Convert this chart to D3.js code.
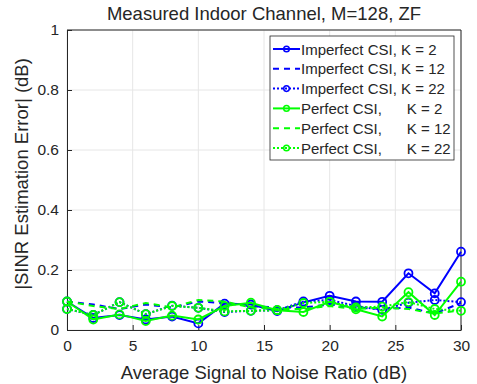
<!DOCTYPE html>
<html>
<head>
<meta charset="utf-8">
<script src="https://cdn.jsdelivr.net/npm/d3@7"></script>
<style>
  body { margin: 0; background: #fff; }
  text { font-family: "Liberation Sans", Arial, sans-serif; fill: #262626; }
</style>
</head>
<body>
<svg id="chart"></svg>
<script>
const snr = [0, 2, 4, 6, 8, 10, 12, 14, 16, 18, 20, 22, 24, 26, 28, 30];

const imperfectK2  = [0.095, 0.040, 0.050, 0.035, 0.045, 0.022, 0.088, 0.085, 0.063, 0.092, 0.114, 0.095, 0.094, 0.189, 0.122, 0.261];
const imperfectK12 = [0.095, 0.085, 0.070, 0.085, 0.075, 0.095, 0.090, 0.080, 0.075, 0.075, 0.085, 0.075, 0.070, 0.075, 0.055, 0.090];
const imperfectK22 = [0.070, 0.050, 0.093, 0.053, 0.081, 0.074, 0.060, 0.064, 0.066, 0.095, 0.100, 0.080, 0.067, 0.091, 0.100, 0.093];
const perfectK2    = [0.095, 0.035, 0.052, 0.030, 0.048, 0.035, 0.080, 0.091, 0.066, 0.060, 0.094, 0.069, 0.045, 0.126, 0.050, 0.161];
const perfectK12   = [0.095, 0.080, 0.070, 0.090, 0.075, 0.100, 0.095, 0.075, 0.070, 0.070, 0.080, 0.070, 0.075, 0.070, 0.055, 0.065];
const perfectK22   = [0.070, 0.050, 0.093, 0.053, 0.080, 0.074, 0.062, 0.064, 0.066, 0.090, 0.094, 0.075, 0.078, 0.093, 0.070, 0.064];

const legendLabels = [
    "Imperfect CSI, K = 2",
    "Imperfect CSI, K = 12",
    "Imperfect CSI, K = 22",
    "Perfect CSI,      K = 2",
    "Perfect CSI,      K = 12",
    "Perfect CSI,      K = 22"
];

const xTicks = [0, 5, 10, 15, 20, 25, 30];
const yTicks = [0, 0.2, 0.4, 0.6, 0.8, 1];

const series = [
    {values: imperfectK2,  color: '#0000ff', dash: null,  marker: true},
    {values: imperfectK12, color: '#0000ff', dash: '6,5', marker: false},
    {values: imperfectK22, color: '#0000ff', dash: '2,2', marker: true},
    {values: perfectK2,    color: '#00ff00', dash: null,  marker: true},
    {values: perfectK12,   color: '#00ff00', dash: '6,5', marker: false},
    {values: perfectK22,   color: '#00ff00', dash: '2,2', marker: true}
];

const W = 477, H = 384;
const margin = {top: 30, right: 16, bottom: 54, left: 67};
const width = W - margin.left - margin.right;
const height = H - margin.top - margin.bottom;

const x = d3.scaleLinear().domain([0, 30]).range([0, width]);
const y = d3.scaleLinear().domain([0, 1]).range([height, 0]);

const svg = d3.select('#chart').attr('width', W).attr('height', H);
const g = svg.append('g').attr('transform', `translate(${margin.left},${margin.top})`);

// grid
g.append('g').selectAll('line').data(xTicks).join('line')
    .attr('x1', d => x(d)).attr('x2', d => x(d))
    .attr('y1', 0).attr('y2', height)
    .attr('stroke', '#e6e6e6');
g.append('g').selectAll('line').data(yTicks).join('line')
    .attr('x1', 0).attr('x2', width)
    .attr('y1', d => y(d)).attr('y2', d => y(d))
    .attr('stroke', '#e6e6e6');

// axes (ticks inward)
const xAxis = d3.axisBottom(x).tickValues(xTicks).tickSizeInner(-5).tickSizeOuter(0).tickPadding(10);
const yAxis = d3.axisLeft(y).tickValues(yTicks).tickSizeInner(-5).tickSizeOuter(0).tickPadding(8)
    .tickFormat(d => d3.format('~g')(d));

g.append('g').attr('transform', `translate(0,${height})`).call(xAxis)
    .call(a => a.selectAll('text').style('font-size', '15.5px').attr('fill', '#262626'))
    .call(a => a.selectAll('line, path').attr('stroke', '#262626'));
g.append('g').call(yAxis)
    .call(a => a.selectAll('text').style('font-size', '15.5px').attr('fill', '#262626'))
    .call(a => a.selectAll('line, path').attr('stroke', '#262626'));

// top/right box
g.append('path')
    .attr('d', `M0,0H${width}V${height}`)
    .attr('fill', 'none').attr('stroke', '#262626');

// lines
const line = d3.line().x((d, i) => x(snr[i])).y(d => y(d));
series.forEach(s => {
    g.append('path')
        .datum(s.values)
        .attr('fill', 'none')
        .attr('stroke', s.color)
        .attr('stroke-width', 2)
        .attr('stroke-dasharray', s.dash)
        .attr('d', line);
    if (s.marker) {
        g.append('g').selectAll('circle').data(s.values).join('circle')
            .attr('cx', (d, i) => x(snr[i]))
            .attr('cy', d => y(d))
            .attr('r', 4)
            .attr('fill', 'none')
            .attr('stroke', s.color)
            .attr('stroke-width', 1.8);
    }
});

// title and labels
svg.append('text')
    .attr('x', margin.left + width / 2).attr('y', 20)
    .attr('text-anchor', 'middle')
    .style('font-size', '18.5px')
    .text('Measured Indoor Channel, M=128, ZF');

svg.append('text')
    .attr('x', margin.left + width / 2).attr('y', 379)
    .attr('text-anchor', 'middle')
    .style('font-size', '18.5px')
    .text('Average Signal to Noise Ratio (dB)');

svg.append('text')
    .attr('transform', `translate(28,${margin.top + height / 2 - 6}) rotate(-90)`)
    .attr('text-anchor', 'middle')
    .style('font-size', '18.5px')
    .text('|SINR Estimation Error| (dB)');

// legend
const lg = svg.append('g').attr('transform', 'translate(270,36)');
lg.append('rect')
    .attr('width', 184).attr('height', 124)
    .attr('fill', '#fff').attr('stroke', '#262626').attr('stroke-width', 0.8);

series.forEach((s, i) => {
    const yy = 13 + i * 19.8;
    lg.append('line')
        .attr('x1', 3).attr('x2', 30)
        .attr('y1', yy).attr('y2', yy)
        .attr('stroke', s.color).attr('stroke-width', 2)
        .attr('stroke-dasharray', s.dash);
    if (s.marker) {
        lg.append('circle')
            .attr('cx', 16.5).attr('cy', yy).attr('r', 2.8)
            .attr('fill', 'none').attr('stroke', s.color).attr('stroke-width', 1.5);
    }
    lg.append('text')
        .attr('x', 31).attr('y', yy + 5.5)
        .style('font-size', '15px')
        .style('white-space', 'pre')
        .attr('fill', '#000')
        .text(legendLabels[i]);
});
</script>
</body>
</html>
